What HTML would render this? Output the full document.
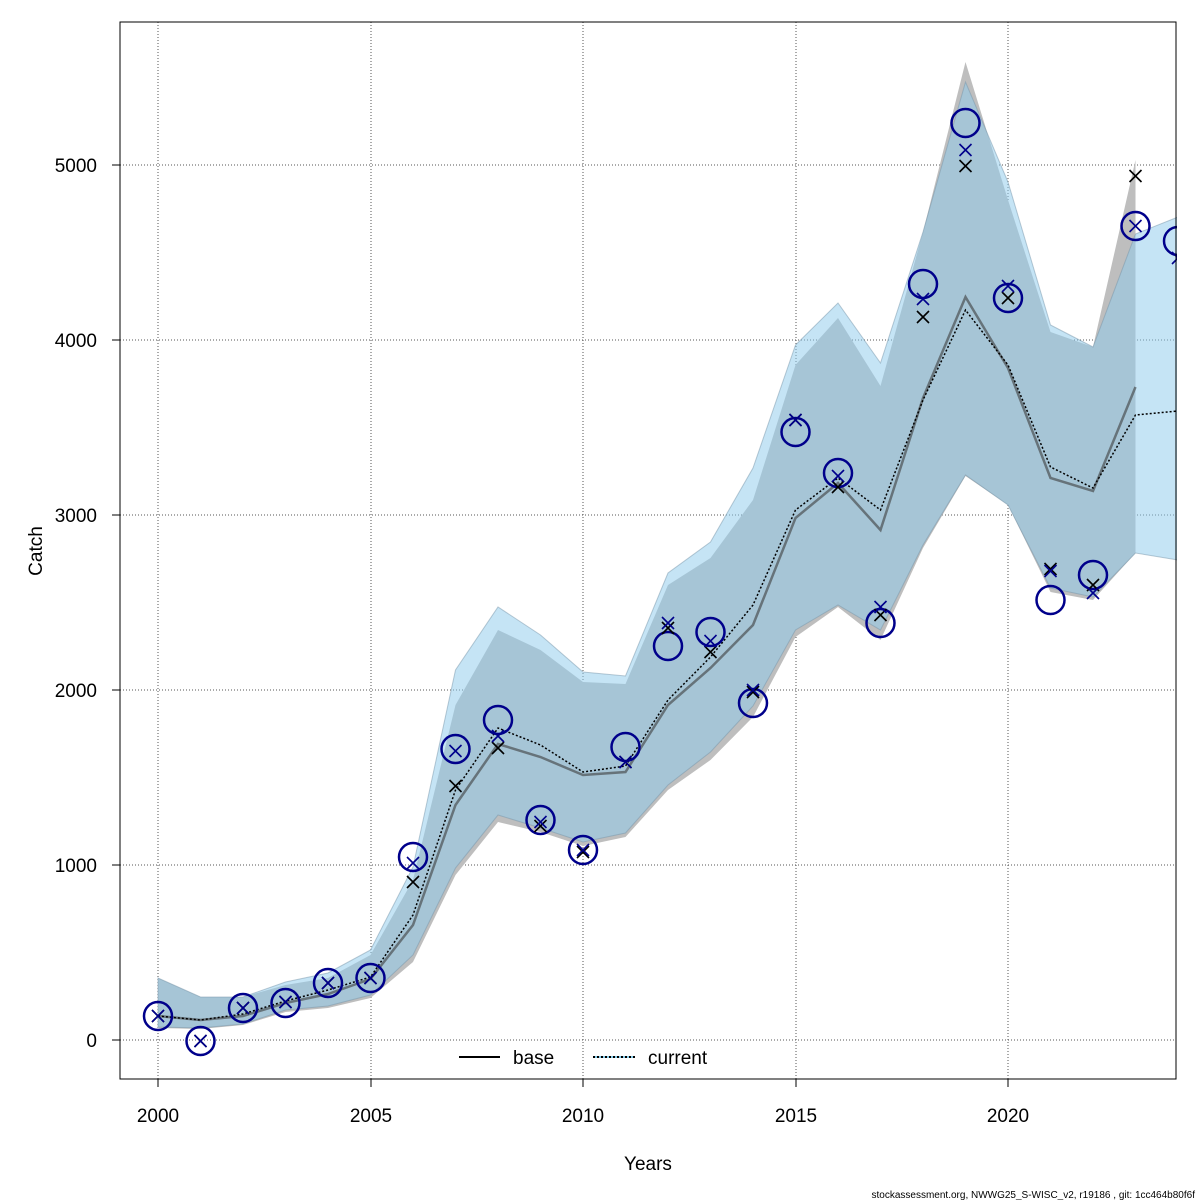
<!DOCTYPE html>
<html><head><meta charset="utf-8"><style>body{margin:0;background:#fff}svg{display:block}text{font-family:"Liberation Sans",Arial,sans-serif}</style></head><body>
<svg width="1200" height="1200" xmlns="http://www.w3.org/2000/svg">
<rect width="1200" height="1200" fill="#fff"/>
<g stroke="#555" stroke-width="1" stroke-dasharray="1,2">
<line x1="158" y1="22" x2="158" y2="1079"/><line x1="371" y1="22" x2="371" y2="1079"/><line x1="583" y1="22" x2="583" y2="1079"/><line x1="796" y1="22" x2="796" y2="1079"/><line x1="1008" y1="22" x2="1008" y2="1079"/>
<line x1="120" y1="1040" x2="1176" y2="1040"/><line x1="120" y1="865" x2="1176" y2="865"/><line x1="120" y1="690" x2="1176" y2="690"/><line x1="120" y1="515" x2="1176" y2="515"/><line x1="120" y1="340" x2="1176" y2="340"/><line x1="120" y1="165" x2="1176" y2="165"/>
</g>
<polygon fill="#bebebe" points="158,978 200.5,997 243,997 285.5,985 328,978 370.5,955 413,880 455.5,705 498,630 540.5,650 583,682 625.5,684 668,585 710.5,558 753,500 795.5,365 838,318 880.5,386 923,232 965.5,62 1008,200 1050.5,332 1093,347 1135.5,160 1135.5,553 1093,600 1050.5,592 1008,505 965.5,476 923,548 880.5,640 838,607 795.5,637 753,717 710.5,760 668,790 625.5,837 583,846 540.5,832 498,822 455.5,875 413,962 370.5,998 328,1008 285.5,1012 243,1025 200.5,1029 158,1028"/>
<polygon fill="rgba(143,203,236,0.52)" stroke="rgba(120,150,170,0.5)" stroke-width="1" points="158,978 200.5,997 243,997 285.5,982 328,973 370.5,950 413,867 455.5,670 498,607 540.5,635 583,672 625.5,676 668,573 710.5,542 753,468 795.5,345 838,303 880.5,363 923,232 965.5,82 1008,182 1050.5,325 1093,347 1135.5,234 1178,217 1178,560 1135.5,553 1093,597 1050.5,588 1008,505 965.5,475 923,545 880.5,630 838,605 795.5,630 753,706 710.5,752 668,785 625.5,833 583,842 540.5,828 498,815 455.5,868 413,955 370.5,995 328,1006 285.5,1010 243,1024 200.5,1028 158,1027"/>
<polyline fill="none" stroke="rgba(60,60,60,0.6)" stroke-width="2.5" points="158,1016 200.5,1020 243,1016 285.5,1003 328,994 370.5,979 413,925 455.5,805 498,744 540.5,757 583,775 625.5,772 668,705 710.5,668 753,625 795.5,518 838,483 880.5,530 923,398 965.5,297 1008,368 1050.5,478 1093,491 1135.5,387"/>
<polyline fill="none" stroke="#000" stroke-width="1.5" stroke-dasharray="2,2" points="158,1016 200.5,1020 243,1014 285.5,1001 328,990 370.5,977 413,915 455.5,790 498,728 540.5,745 583,772 625.5,766 668,700 710.5,657 753,605 795.5,510 838,478 880.5,510 923,400 965.5,310 1008,365 1050.5,467 1093,488 1135.5,415 1178,411"/>
<g fill="none" stroke="#00008b" stroke-width="2.5">
<circle cx="158" cy="1016" r="14"/><circle cx="200.5" cy="1041" r="14"/><circle cx="243" cy="1008" r="14"/><circle cx="285.5" cy="1003" r="14"/><circle cx="328" cy="983" r="14"/><circle cx="370.5" cy="978" r="14"/><circle cx="413" cy="857" r="14"/><circle cx="455.5" cy="749" r="14"/><circle cx="498" cy="720" r="14"/><circle cx="540.5" cy="820" r="14"/><circle cx="583" cy="850" r="14"/><circle cx="625.5" cy="747" r="14"/><circle cx="668" cy="646" r="14"/><circle cx="710.5" cy="632" r="14"/><circle cx="753" cy="703" r="14"/><circle cx="795.5" cy="432" r="14"/><circle cx="838" cy="473" r="14"/><circle cx="880.5" cy="623" r="14"/><circle cx="923" cy="284" r="14"/><circle cx="965.5" cy="123" r="14"/><circle cx="1008" cy="298" r="14"/><circle cx="1050.5" cy="600" r="14"/><circle cx="1093" cy="575" r="14"/><circle cx="1135.5" cy="226" r="14"/><circle cx="1178" cy="241" r="14"/>
</g>
<defs><path id="x" d="M-6,-6L6,6M-6,6L6,-6"/></defs>
<g stroke="#000" stroke-width="1.6">
<use href="#x" x="158" y="1016"/><use href="#x" x="200.5" y="1041"/><use href="#x" x="243" y="1008"/><use href="#x" x="285.5" y="1002"/><use href="#x" x="328" y="983"/><use href="#x" x="370.5" y="978"/><use href="#x" x="413" y="882"/><use href="#x" x="455.5" y="786"/><use href="#x" x="498" y="748"/><use href="#x" x="540.5" y="826"/><use href="#x" x="583" y="852"/><use href="#x" x="625.5" y="762"/><use href="#x" x="668" y="628"/><use href="#x" x="710.5" y="652"/><use href="#x" x="753" y="692"/><use href="#x" x="795.5" y="420"/><use href="#x" x="838" y="487"/><use href="#x" x="880.5" y="615"/><use href="#x" x="923" y="317"/><use href="#x" x="965.5" y="166"/><use href="#x" x="1008" y="298"/><use href="#x" x="1050.5" y="569"/><use href="#x" x="1093" y="585"/><use href="#x" x="1135.5" y="176"/>
</g>
<g stroke="#00008b" stroke-width="1.6">
<use href="#x" x="158" y="1016"/><use href="#x" x="200.5" y="1041"/><use href="#x" x="243" y="1008"/><use href="#x" x="285.5" y="1002"/><use href="#x" x="328" y="983"/><use href="#x" x="370.5" y="978"/><use href="#x" x="413" y="863"/><use href="#x" x="455.5" y="751"/><use href="#x" x="498" y="736"/><use href="#x" x="540.5" y="822"/><use href="#x" x="583" y="850"/><use href="#x" x="625.5" y="762"/><use href="#x" x="668" y="623"/><use href="#x" x="710.5" y="641"/><use href="#x" x="753" y="690"/><use href="#x" x="795.5" y="420"/><use href="#x" x="838" y="476"/><use href="#x" x="880.5" y="607"/><use href="#x" x="923" y="299"/><use href="#x" x="965.5" y="150"/><use href="#x" x="1008" y="286"/><use href="#x" x="1050.5" y="571"/><use href="#x" x="1093" y="593"/><use href="#x" x="1135.5" y="226"/><use href="#x" x="1178" y="258"/>
</g>
<rect x="0" y="0" width="1200" height="22" fill="#fff"/>
<rect x="1177" y="0" width="23" height="1200" fill="#fff"/>
<rect x="120" y="22" width="1056" height="1057" fill="none" stroke="#000" stroke-width="1"/>
<line x1="459" y1="1057" x2="500" y2="1057" stroke="#000" stroke-width="2"/>
<text x="513" y="1064" font-size="19">base</text>
<line x1="593" y1="1057" x2="635" y2="1057" stroke="#87ceeb" stroke-width="2"/>
<line x1="593" y1="1057" x2="635" y2="1057" stroke="#000" stroke-width="2" stroke-dasharray="2,2"/>
<text x="648" y="1064" font-size="19">current</text>
<g stroke="#000"><line x1="158" y1="1079" x2="158" y2="1087"/><line x1="371" y1="1079" x2="371" y2="1087"/><line x1="583" y1="1079" x2="583" y2="1087"/><line x1="796" y1="1079" x2="796" y2="1087"/><line x1="1008" y1="1079" x2="1008" y2="1087"/>
<line x1="112" y1="1040" x2="120" y2="1040"/><line x1="112" y1="865" x2="120" y2="865"/><line x1="112" y1="690" x2="120" y2="690"/><line x1="112" y1="515" x2="120" y2="515"/><line x1="112" y1="340" x2="120" y2="340"/><line x1="112" y1="165" x2="120" y2="165"/></g>
<g font-size="19" text-anchor="middle"><text x="158" y="1122">2000</text><text x="371" y="1122">2005</text><text x="583" y="1122">2010</text><text x="796" y="1122">2015</text><text x="1008" y="1122">2020</text></g>
<g font-size="19" text-anchor="end"><text x="97" y="1047">0</text><text x="97" y="872">1000</text><text x="97" y="697">2000</text><text x="97" y="522">3000</text><text x="97" y="347">4000</text><text x="97" y="172">5000</text></g>
<text x="648" y="1170" font-size="19" text-anchor="middle">Years</text>
<text transform="translate(42,551) rotate(-90)" font-size="19" text-anchor="middle">Catch</text>
<text x="1195" y="1198" font-size="10" text-anchor="end">stockassessment.org, NWWG25_S-WISC_v2, r19186 , git: 1cc464b80f6f</text>
</svg>
</body></html>
